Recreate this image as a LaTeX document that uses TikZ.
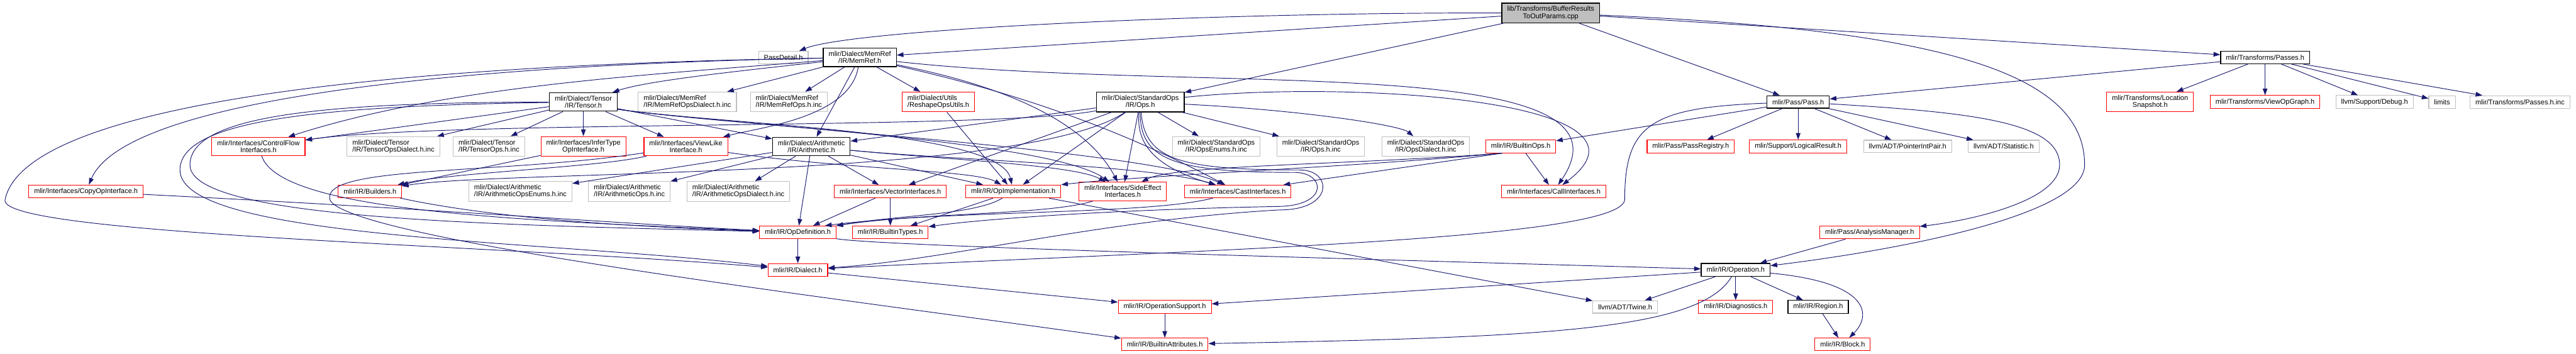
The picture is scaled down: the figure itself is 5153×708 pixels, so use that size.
\documentclass[tikz,border=0pt]{standalone}
\usepackage{fontspec}
\setmainfont{Liberation Sans}
\usetikzlibrary{arrows.meta}
\definecolor{edgeblue}{RGB}{25,25,112}
\definecolor{grey75}{RGB}{191,191,191}
\begin{document}
\begin{tikzpicture}[x=0.75pt, y=-0.75pt]
        \tikzstyle{file}=[draw, line width=1pt, fill=white, inner xsep=8pt, inner ysep=4.8pt, minimum height=18.75pt, align=center, font=\fontsize{10.4}{10.5}\selectfont]
        \tikzstyle{redfile}=[file, draw=red]
        \tikzstyle{greyfile}=[file, draw=grey75]
        \tikzstyle{blackfile}=[file, draw=black, line width=1.2pt]
        \tikzstyle{rootfile}=[file, draw=black, line width=1.2pt, fill=grey75]
        \tikzstyle{incl}=[edgeblue, line width=0.9pt, -{Triangle[length=10pt, width=7pt]}]

        \useasboundingbox (0,0) rectangle (5153,708);

        \node[rootfile] (root) at (3102,26) {lib/Transforms/BufferResults\\ToOutParams.cpp};

        \node[greyfile] (passdetail) at (1567,115) {PassDetail.h};
        \node[blackfile] (memref) at (1720,115) {mlir/Dialect/MemRef\\/IR/MemRef.h};
        \node[blackfile] (passes) at (4531,115) {mlir/Transforms/Passes.h};

        \node[blackfile] (tensor) at (1167,204) {mlir/Dialect/Tensor\\/IR/Tensor.h};
        \node[greyfile, align=left] (memrefdialect) at (1375,204) {mlir/Dialect/MemRef\\/IR/MemRefOpsDialect.h.inc};
        \node[greyfile, align=left] (memrefops) at (1578,204) {mlir/Dialect/MemRef\\/IR/MemRefOps.h.inc};
        \node[redfile, align=left] (reshape) at (1877,204) {mlir/Dialect/Utils\\/ReshapeOpsUtils.h};
        \node[blackfile] (stdops) at (2281,204) {mlir/Dialect/StandardOps\\/IR/Ops.h};
        \node[blackfile] (pass) at (3597,204) {mlir/Pass/Pass.h};
        \node[redfile] (snapshot) at (4301,204) {mlir/Transforms/Location\\Snapshot.h};
        \node[redfile] (viewopgraph) at (4531,204) {mlir/Transforms/ViewOpGraph.h};
        \node[greyfile] (debug) at (4750,204) {llvm/Support/Debug.h};
        \node[greyfile] (limits) at (4885,204) {limits};
        \node[greyfile] (passesinc) at (5041,204) {mlir/Transforms/Passes.h.inc};

        \node[redfile] (controlflow) at (517,293) {mlir/Interfaces/ControlFlow\\Interfaces.h};
        \node[greyfile, align=left] (tensordialect) at (787,293) {mlir/Dialect/Tensor\\/IR/TensorOpsDialect.h.inc};
        \node[greyfile, align=left] (tensorops) at (978,293) {mlir/Dialect/Tensor\\/IR/TensorOps.h.inc};
        \node[redfile] (infertype) at (1167,293) {mlir/Interfaces/InferType\\OpInterface.h};
        \node[redfile] (viewlike) at (1372,293) {mlir/Interfaces/ViewLike\\Interface.h};
        \node[blackfile] (arith) at (1623,293) {mlir/Dialect/Arithmetic\\/IR/Arithmetic.h};
        \node[greyfile] (opsenums) at (2433,293) {mlir/Dialect/StandardOps\\/IR/OpsEnums.h.inc};
        \node[greyfile] (opsinc) at (2642,293) {mlir/Dialect/StandardOps\\/IR/Ops.h.inc};
        \node[greyfile] (opsdialect) at (2852,293) {mlir/Dialect/StandardOps\\/IR/OpsDialect.h.inc};
        \node[redfile] (builtinops) at (3042,293) {mlir/IR/BuiltinOps.h};
        \node[redfile] (passregistry) at (3382,293) {mlir/Pass/PassRegistry.h};
        \node[redfile] (logicalresult) at (3597,293) {mlir/Support/LogicalResult.h};
        \node[greyfile] (pointerintpair) at (3816,293) {llvm/ADT/PointerIntPair.h};
        \node[greyfile] (statistic) at (4008,293) {llvm/ADT/Statistic.h};

        \node[redfile] (copyop) at (172,383) {mlir/Interfaces/CopyOpInterface.h};
        \node[redfile] (builders) at (740,383) {mlir/IR/Builders.h};
        \node[greyfile, align=left] (arithenums) at (1041,383) {mlir/Dialect/Arithmetic\\/IR/ArithmeticOpsEnums.h.inc};
        \node[greyfile, align=left] (arithops) at (1259,383) {mlir/Dialect/Arithmetic\\/IR/ArithmeticOps.h.inc};
        \node[greyfile, align=left] (arithdialect) at (1477,383) {mlir/Dialect/Arithmetic\\/IR/ArithmeticOpsDialect.h.inc};
        \node[redfile] (vectorif) at (1781,383) {mlir/Interfaces/VectorInterfaces.h};
        \node[redfile] (opimpl) at (2027,383) {mlir/IR/OpImplementation.h};
        \node[redfile] (sideeffect) at (2246,383) {mlir/Interfaces/SideEffect\\Interfaces.h};
        \node[redfile] (castif) at (2476,383) {mlir/Interfaces/CastInterfaces.h};
        \node[redfile] (callif) at (3108,383) {mlir/Interfaces/CallInterfaces.h};

        \node[redfile] (opdef) at (1596,465) {mlir/IR/OpDefinition.h};
        \node[redfile] (builtintypes) at (1781,465) {mlir/IR/BuiltinTypes.h};
        \node[redfile] (analysis) at (3740,465) {mlir/Pass/AnalysisManager.h};

        \node[redfile] (dialect) at (1596,540) {mlir/IR/Dialect.h};
        \node[blackfile] (operation) at (3472,540) {mlir/IR/Operation.h};

        \node[redfile] (opsupport) at (2330,614) {mlir/IR/OperationSupport.h};
        \node[greyfile] (twine) at (3251,614) {llvm/ADT/Twine.h};
        \node[redfile] (diagnostics) at (3472,614) {mlir/IR/Diagnostics.h};
        \node[blackfile] (region) at (3637,614) {mlir/IR/Region.h};

        \node[redfile] (builtinattrs) at (2330,689) {mlir/IR/BuiltinAttributes.h};
        \node[redfile] (block) at (3686,689) {mlir/IR/Block.h};

        \draw[incl] (root) .. controls (2400,25) and (1700,60) .. (passdetail);
        \draw[incl] (root) -- (memref);
        \draw[incl] (root) -- (stdops);
        \draw[incl] (root) -- (pass);
        \draw[incl] (root) -- (passes);
        \draw[incl] (root) .. controls (3900,60) and (4170,150) .. (4170,330) .. controls (4170,430) and (3800,500) .. (operation);

        \draw[incl] (passes) -- (pass);
        \draw[incl] (passes) -- (snapshot);
        \draw[incl] (passes) -- (viewopgraph);
        \draw[incl] (passes) -- (debug);
        \draw[incl] (passes) -- (limits);
        \draw[incl] (passes) -- (passesinc);

        \draw[incl] (pass) -- (builtinops);
        \draw[incl] (pass) -- (passregistry);
        \draw[incl] (pass) -- (logicalresult);
        \draw[incl] (pass) -- (pointerintpair);
        \draw[incl] (pass) -- (statistic);
        \draw[incl] (pass) .. controls (3950,225) and (4120,245) .. (4120,330) .. controls (4120,400) and (3950,440) .. (analysis);
        \draw[incl] (pass) .. controls (3300,215) and (3250,250) .. (3250,400) .. controls (3240,480) and (2400,500) .. (dialect);

        \draw[incl] (analysis) -- (operation);
        \draw[incl] (operation) -- (opsupport);
        \draw[incl] (operation) .. controls (3400,660) and (3100,675) .. (builtinattrs);
        \draw[incl] (operation) -- (twine);
        \draw[incl] (operation) -- (diagnostics);
        \draw[incl] (operation) -- (region);
        \draw[incl] (operation) .. controls (3740,565) and (3745,630) .. (block);
        \draw[incl] (region) -- (block);
        \draw[incl] (opsupport) -- (builtinattrs);
        \draw[incl] (dialect) -- (opsupport);
        \draw[incl] (opdef) -- (dialect);
        \draw[incl] (opdef) .. controls (1760,492) and (2600,515) .. (operation);

        \draw[incl] (memref) .. controls (1500,140) and (1300,160) .. (tensor);
        \draw[incl] (memref) -- (memrefdialect);
        \draw[incl] (memref) -- (memrefops);
        \draw[incl] (memref) -- (reshape);
        \draw[incl] (memref) -- (arith);
        \draw[incl] (memref) .. controls (1700,235) and (1520,255) .. (viewlike);
        \draw[incl] (memref) .. controls (1300,150) and (900,170) .. (controlflow);
        \draw[incl] (memref) .. controls (900,130) and (250,200) .. (copyop);
        \draw[incl] (memref) .. controls (500,135) and (40,250) .. (10,400) .. controls (0,470) and (1000,490) .. (dialect);
        \draw[incl] (memref) .. controls (2400,190) and (3300,100) .. (callif);
        \draw[incl] (memref) .. controls (2050,180) and (2180,260) .. (sideeffect);
        \draw[incl] (memref) .. controls (2100,200) and (2300,290) .. (castif);

        \draw[incl] (tensor) -- (tensordialect);
        \draw[incl] (tensor) -- (tensorops);
        \draw[incl] (tensor) -- (infertype);
        \draw[incl] (tensor) -- (viewlike);
        \draw[incl] (tensor) -- (arith);
        \draw[incl] (tensor) -- (controlflow);
        \draw[incl] (tensor) .. controls (650,205) and (380,230) .. (380,330) .. controls (380,440) and (1000,450) .. (opdef);
        \draw[incl] (tensor) .. controls (640,212) and (360,240) .. (360,340) .. controls (360,480) and (1100,480) .. (dialect);
        \draw[incl] (tensor.-12) .. controls (1450,250) and (2300,300) .. (castif);
        \draw[incl] (tensor.-12) .. controls (1450,250) and (2100,280) .. (sideeffect);
        \draw[incl] (tensor.-12) .. controls (1450,250) and (2000,260) .. (opimpl);

        \draw[incl] (stdops) -- (opsenums);
        \draw[incl] (stdops) -- (opsinc);
        \draw[incl] (stdops) .. controls (2600,220) and (2800,250) .. (opsdialect);
        \draw[incl] (stdops) -- (arith);
        \draw[incl] (stdops) .. controls (2050,360) and (1000,340) .. (builders);
        \draw[incl] (stdops) .. controls (2000,260) and (900,240) .. (controlflow);
        \draw[incl] (stdops) -- (opimpl);
        \draw[incl] (stdops) -- (sideeffect);
        \draw[incl] (stdops) -- (vectorif);
        \draw[incl] (stdops) .. controls (2270,300) and (2330,340) .. (castif);
        \draw[incl] (stdops) .. controls (2700,160) and (3350,200) .. (callif);
        \draw[incl] (stdops) .. controls (2280,320) and (2350,345) .. (2590,345) .. controls (2650,345) and (2660,410) .. (2560,413) .. controls (2200,420) and (1950,440) .. (builtintypes);
        \draw[incl] (stdops) .. controls (2290,320) and (2360,340) .. (2600,340) .. controls (2665,340) and (2670,420) .. (2560,420) .. controls (2200,440) and (1900,520) .. (dialect);

        \draw[incl] (reshape) -- (opimpl);

        \draw[incl] (arith) -- (arithenums);
        \draw[incl] (arith) -- (arithops);
        \draw[incl] (arith) -- (arithdialect);
        \draw[incl] (arith) -- (opdef);
        \draw[incl] (arith) -- (vectorif);
        \draw[incl] (arith) -- (opimpl);
        \draw[incl] (arith) .. controls (1900,320) and (2150,330) .. (sideeffect);
        \draw[incl] (arith) .. controls (1900,320) and (2300,330) .. (castif);

        \draw[incl] (controlflow) .. controls (560,420) and (1000,440) .. (opdef);
        \draw[incl] (copyop) .. controls (900,420) and (1200,445) .. (opdef);
        \draw[incl] (builders) .. controls (1000,440) and (1300,455) .. (opdef);
        \draw[incl] (infertype) -- (builders);
        \draw[incl] (viewlike) .. controls (1200,335) and (900,345) .. (builders);
        \draw[incl] (viewlike) .. controls (1700,340) and (1950,340) .. (opimpl);
        \draw[incl] (viewlike) .. controls (1000,350) and (640,330) .. (660,400) .. controls (700,480) and (1700,600) .. (builtinattrs);
        \draw[incl] (vectorif) -- (opdef);
        \draw[incl] (vectorif) -- (builtintypes);
        \draw[incl] (opimpl) -- (builtintypes);
        \draw[incl] (opimpl) .. controls (1950,430) and (1800,430) .. (opdef.north east);
        \draw[incl] (opimpl) -- (twine);
        \draw[incl] (sideeffect) .. controls (2100,430) and (1850,425) .. (opdef.10);
        \draw[incl] (castif) .. controls (2300,430) and (1900,420) .. (opdef.14);
        \draw[incl] (builtinops) -- (callif);
        \draw[incl] (builtinops.200) -- (castif);
        \draw[incl] (builtinops.200) .. controls (2700,335) and (2300,350) .. (opimpl.north east);
        \draw[incl] (builtinops.200) .. controls (2700,330) and (2350,330) .. (sideeffect);
    \end{tikzpicture}
\end{document}
